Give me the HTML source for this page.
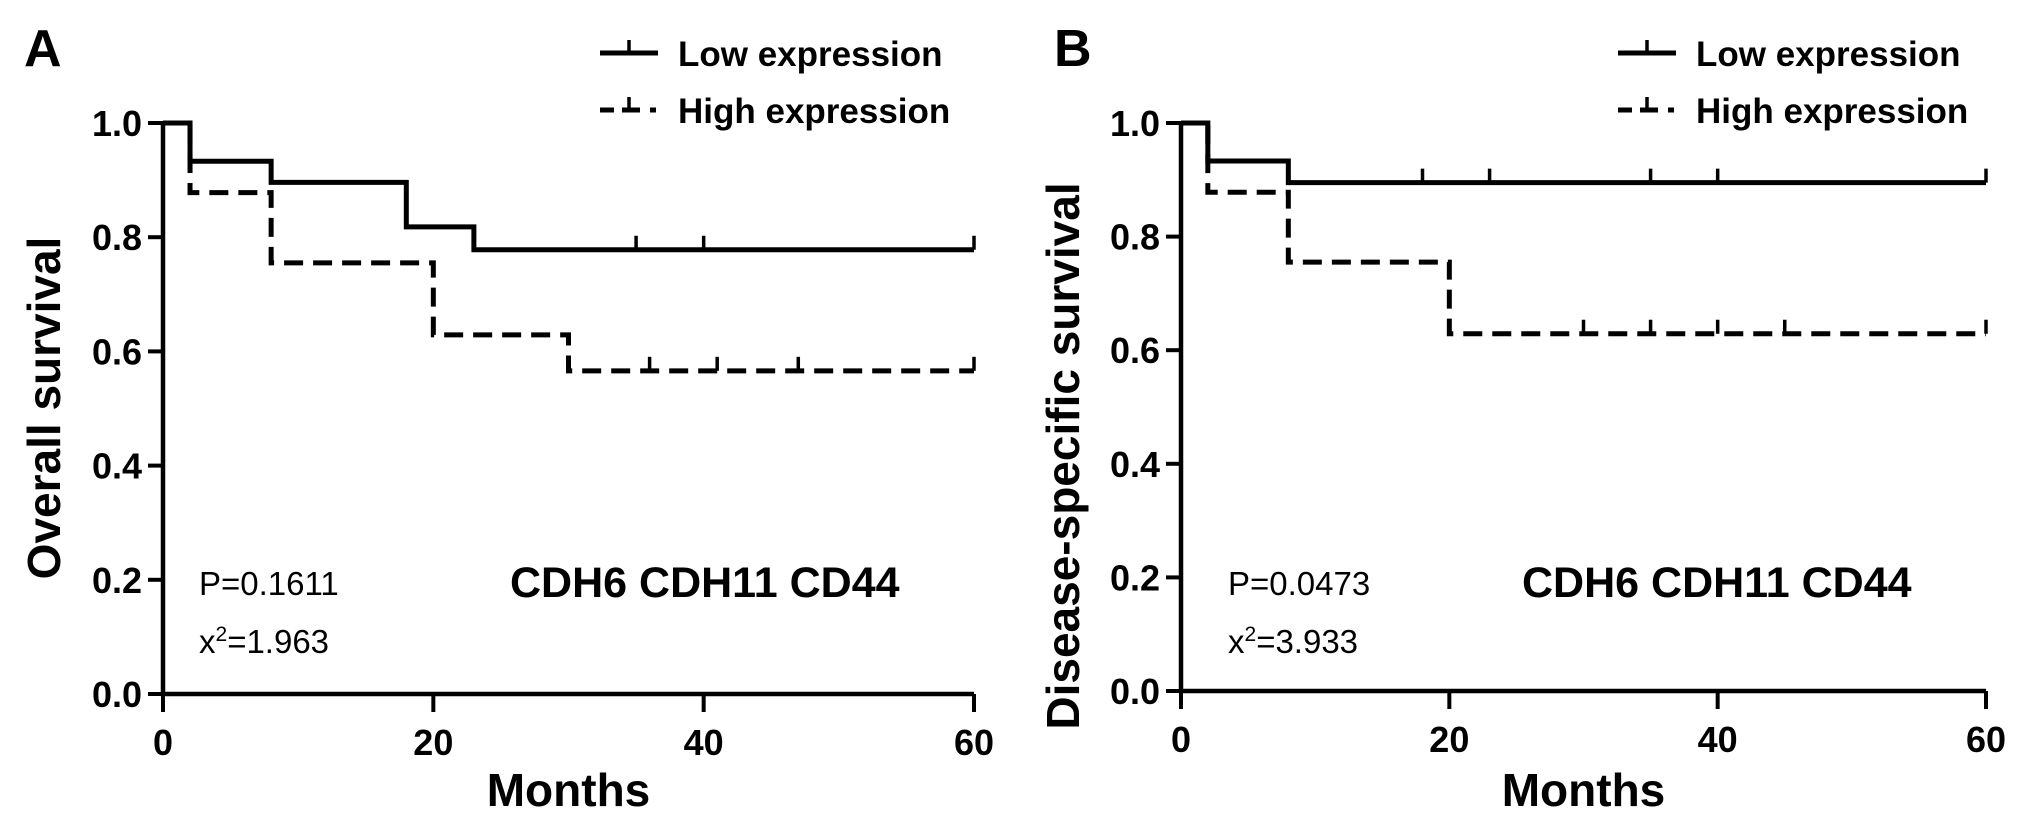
<!DOCTYPE html>
<html><head><meta charset="utf-8"><style>
html,body{margin:0;padding:0;background:#fff;}
svg{display:block;font-family:"Liberation Sans",Arial,sans-serif;}
</style></head><body>
<svg id="fig" width="2031" height="827" viewBox="0 0 2031 827" xmlns="http://www.w3.org/2000/svg"></svg>
<script>
// ---- data ----
const xTicks = [0, 20, 40, 60];
const yTicks = [0.0, 0.2, 0.4, 0.6, 0.8, 1.0];
const yTickLabels = ["0.0", "0.2", "0.4", "0.6", "0.8", "1.0"];
// Panel A (overall survival)
const aLowTimes = [0, 2, 8, 18, 23, 60];
const aLowSurv = [1.0, 0.933, 0.896, 0.818, 0.778, 0.778];
const aLowCensor = [35, 40, 60];
const aHighTimes = [0, 2, 8, 20, 30, 60];
const aHighSurv = [1.0, 0.878, 0.755, 0.629, 0.566, 0.566];
const aHighCensor = [36, 41, 47, 60];
// Panel B (disease-specific survival)
const bLowTimes = [0, 2, 8, 60];
const bLowSurv = [1.0, 0.933, 0.895, 0.895];
const bLowCensor = [18, 23, 35, 40, 60];
const bHighTimes = [0, 2, 8, 20, 60];
const bHighSurv = [1.0, 0.878, 0.755, 0.629, 0.629];
const bHighCensor = [30, 35, 40, 45, 60];

const NS = "http://www.w3.org/2000/svg";
const svg = document.getElementById("fig");
function el(tag, attrs, parent, text) {
  const e = document.createElementNS(NS, tag);
  for (const k in attrs) e.setAttribute(k, attrs[k]);
  if (text !== undefined) e.textContent = text;
  (parent || svg).appendChild(e);
  return e;
}
const DASH = "19 10";

function panel(cfg) {
  const g = el("g", {});
  
  
  const xs = t => cfg.x0 + (t / 60) * (cfg.x1 - cfg.x0);
  const ys = v => cfg.y0 - v * (cfg.y0 - cfg.y1);

  const axes = el("path", {d: `M${cfg.x0},${cfg.y1 - 2} V${cfg.y0} H${cfg.x1}`, stroke: "#000", "stroke-width": 4.5, fill: "none"}, g);
  
  
  yTicks.forEach((v, i) => {
    const t = el("line", {x1: cfg.x0 - 15, x2: cfg.x0, y1: ys(v), y2: ys(v), stroke: "#000", "stroke-width": 4}, g);
    
    
    const l = el("text", {x: cfg.x0 - 21, y: ys(v) + 13, "text-anchor": "end", "font-size": 36, "font-weight": "bold"}, g, yTickLabels[i]);
    
    
  });
  xTicks.forEach(v => {
    const t = el("line", {x1: xs(v), x2: xs(v), y1: cfg.y0, y2: cfg.y0 + 18, stroke: "#000", "stroke-width": 4}, g);
    
    
    const l = el("text", {x: xs(v), y: cfg.y0 + 61, "text-anchor": "middle", "font-size": 36, "font-weight": "bold"}, g, String(v));
    
    
  });
  const xt = el("text", {x: (cfg.x0 + cfg.x1) / 2, y: 806, "text-anchor": "middle", "font-size": 46, "font-weight": "bold"}, g, "Months");
  
  
  const yt = el("text", {x: 0, y: 0, transform: `translate(${cfg.ytx},${cfg.yty}) rotate(-90)`, "text-anchor": "middle", "font-size": 46, "font-weight": "bold"}, g, cfg.ytitle);
  
  
  const pl = el("text", {x: cfg.letterX, y: 66, "font-size": 52, "font-weight": "bold"}, g, cfg.letter);
  
  

  function series(times, surv, censor, dashed, nm) {
    let d = `M${xs(times[0])},${ys(surv[0])}`;
    for (let i = 1; i < times.length; i++) {
      d += ` H${xs(times[i])} V${ys(surv[i])}`;
    }
    const p = el("path", {d, stroke: "#000", "stroke-width": 5, fill: "none", "stroke-dasharray": dashed ? DASH : "none"}, g);
    
    
    censor.forEach(c => {
      let v = surv[0];
      for (let i = 0; i < times.length; i++) if (times[i] <= c) v = surv[i];
      const m = el("line", {x1: xs(c), x2: xs(c), y1: ys(v), y2: ys(v) - 14, stroke: "#000", "stroke-width": 3.5}, g);
      
      
    });
  }
  series(cfg.lowT, cfg.lowS, cfg.lowC, false, 'low-expression');
  series(cfg.highT, cfg.highS, cfg.highC, true, 'high-expression');

  const lg = el("g", {}, g);
  
  
  const e1 = el("g", {}, lg);
  
  
  el("line", {x1: cfg.legX, x2: cfg.legX + 58, y1: 53, y2: 53, stroke: "#000", "stroke-width": 5}, e1);
  el("line", {x1: cfg.legX + 29, x2: cfg.legX + 29, y1: 53, y2: 40, stroke: "#000", "stroke-width": 3.5}, e1);
  el("text", {x: cfg.legX + 78, y: 66, "font-size": 35, "font-weight": "bold"}, e1, "Low expression");
  const e2 = el("g", {}, lg);
  
  
  el("line", {x1: cfg.legX, x2: cfg.legX + 14, y1: 110, y2: 110, stroke: "#000", "stroke-width": 5}, e2);
  el("line", {x1: cfg.legX + 22, x2: cfg.legX + 40, y1: 110, y2: 110, stroke: "#000", "stroke-width": 5}, e2);
  el("line", {x1: cfg.legX + 50, x2: cfg.legX + 56, y1: 110, y2: 110, stroke: "#000", "stroke-width": 5}, e2);
  el("line", {x1: cfg.legX + 29, x2: cfg.legX + 29, y1: 110, y2: 97, stroke: "#000", "stroke-width": 3.5}, e2);
  el("text", {x: cfg.legX + 78, y: 123, "font-size": 35, "font-weight": "bold"}, e2, "High expression");

  const st = el("text", {x: cfg.statX, y: 595, "font-size": 33}, g, cfg.p);
  
  
  const cs = el("text", {x: cfg.statX, y: 653, "font-size": 33}, g);
  
  
  el("tspan", {}, cs, "x");
  el("tspan", {dy: -12, "font-size": 21}, cs, "2");
  el("tspan", {dy: 12}, cs, "=" + cfg.chi);
  const gn = el("text", {x: cfg.geneX, y: 597, "font-size": 43, "font-weight": "bold"}, g, "CDH6 CDH11 CD44");
  
  
}

panel({name: 'panel-a-overall-survival', letter: 'A', letterX: 24, x0: 163, x1: 974, y0: 694, y1: 123,
  ytitle: 'Overall survival', ytx: 60, yty: 408,
  lowT: aLowTimes, lowS: aLowSurv, lowC: aLowCensor, highT: aHighTimes, highS: aHighSurv, highC: aHighCensor,
  legX: 600, statX: 199, p: 'P=0.1611', chi: '1.963', geneX: 510});
panel({name: 'panel-b-disease-specific-survival', letter: 'B', letterX: 1054, x0: 1181, x1: 1986, y0: 691, y1: 123,
  ytitle: 'Disease-specific survival', ytx: 1079, yty: 456,
  lowT: bLowTimes, lowS: bLowSurv, lowC: bLowCensor, highT: bHighTimes, highS: bHighSurv, highC: bHighCensor,
  legX: 1618, statX: 1228, p: 'P=0.0473', chi: '3.933', geneX: 1522});
</script>
</body></html>
